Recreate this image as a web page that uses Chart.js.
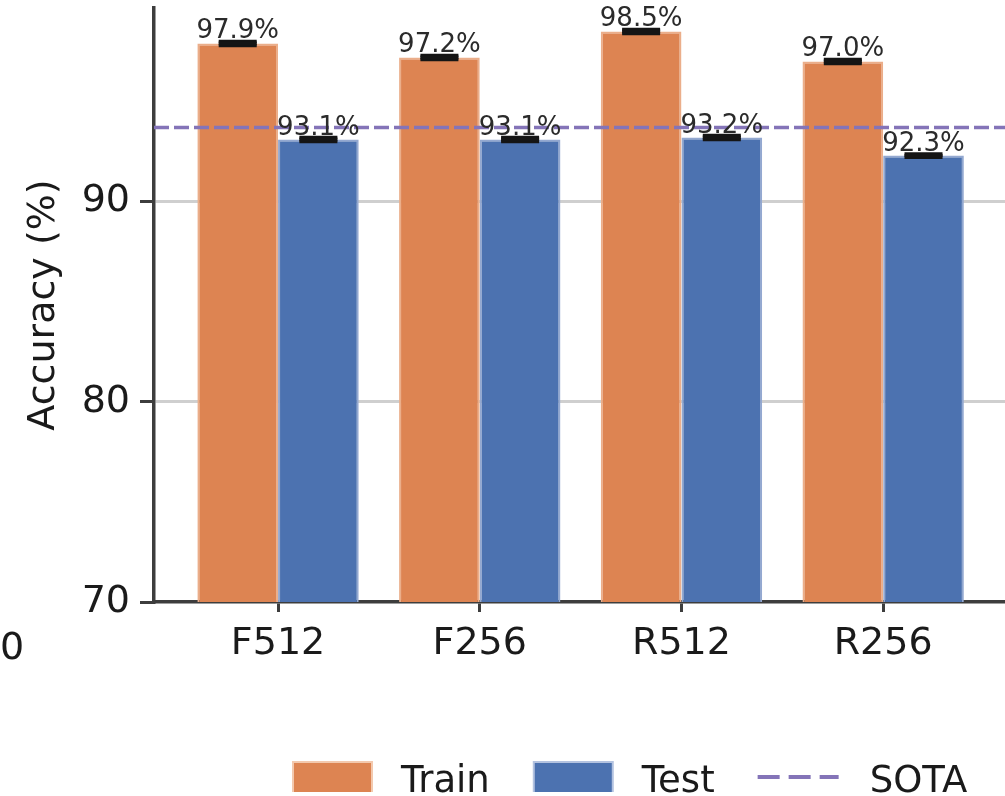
<!DOCTYPE html>
<html>
<head>
<meta charset="utf-8">
<title>Accuracy by model variant</title>
<script src="https://cdn.jsdelivr.net/npm/chart.js@4.4.1/dist/chart.umd.min.js"></script>
<style>
  html, body { margin: 0; padding: 0; background: #ffffff; }
  canvas { display: block; }
</style>
</head>
<body>
<canvas id="chart" width="1005" height="796"></canvas>
<script>
// Model variants on the x axis
const categories = ['F512', 'F256', 'R512', 'R256'];
// Mean accuracy (%) per variant
const trainAcc = [97.9, 97.2, 98.5, 97.0];
const testAcc = [93.1, 93.1, 93.2, 92.3];
// Spread across runs (%)
const trainErr = [0.1, 0.1, 0.1, 0.1];
const testErr = [0.1, 0.1, 0.1, 0.08];
// State-of-the-art reference accuracy (%)
const sotaAcc = 93.7;
// Value axis
const yMin = 70;
const yMax = 99.67;
const yStep = 10;
// Horizontal extent of the category axis (in category units)
const xMin = -0.615;
const xMax = 3.604;

const FONT = "'DejaVu Sans', 'Liberation Sans', sans-serif";
const TRAIN_COLOR = '#DD8452';
const TEST_COLOR = '#4C72B0';
const SOTA_COLOR = '#8474B8';
const AXIS_COLOR = '#3d3d3d';

const series = [
  { label: 'Train', values: trainAcc, errors: trainErr, color: TRAIN_COLOR, edge: '#EBAE8A' },
  { label: 'Test', values: testAcc, errors: testErr, color: TEST_COLOR, edge: '#93A8D0' }
];

// Error bars and value labels on top of each bar
const barAnnotations = {
  id: 'barAnnotations',
  afterDatasetsDraw(chart) {
    const ctx = chart.ctx;
    const y = chart.scales.y;
    series.forEach((s, di) => {
      const meta = chart.getDatasetMeta(di + 1);
      meta.data.forEach((bar, i) => {
        const v = s.values[i];
        const e = s.errors[i];
        const yHi = y.getPixelForValue(v + e);
        const yLo = y.getPixelForValue(v - e);
        const half = 19;
        ctx.save();
        ctx.strokeStyle = '#151515';
        ctx.lineWidth = 3.5;
        ctx.beginPath();
        ctx.moveTo(bar.x - half, yHi); ctx.lineTo(bar.x + half, yHi);
        ctx.moveTo(bar.x - half, yLo); ctx.lineTo(bar.x + half, yLo);
        ctx.stroke();
        ctx.fillStyle = '#151515';
        ctx.fillRect(bar.x - half, yHi, half * 2, yLo - yHi);
        ctx.fillStyle = '#2b2b2b';
        ctx.font = '26px ' + FONT;
        ctx.textAlign = 'center';
        ctx.textBaseline = 'alphabetic';
        ctx.fillText(v.toFixed(1) + '%', bar.x, y.getPixelForValue(v) - 5);
        ctx.restore();
      });
    });
  }
};

// Legend row along the bottom edge
const bottomLegend = {
  id: 'bottomLegend',
  afterDraw(chart) {
    const ctx = chart.ctx;
    ctx.save();
    ctx.font = '37px ' + FONT;
    ctx.textBaseline = 'alphabetic';
    ctx.textAlign = 'left';
    const boxW = 81, boxTop = 761, boxH = 31, baseY = 792;
    let x = 292;
    const items = [
      { text: 'Train', kind: 'box', color: TRAIN_COLOR, edge: '#F3C9AE' },
      { text: 'Test', kind: 'box', color: TEST_COLOR, edge: '#B4C3E0' },
      { text: 'SOTA', kind: 'dash', color: SOTA_COLOR }
    ];
    items.forEach((it) => {
      if (it.kind === 'box') {
        ctx.fillStyle = it.edge;
        ctx.fillRect(x, boxTop, boxW, boxH);
        ctx.fillStyle = it.color;
        ctx.fillRect(x + 2, boxTop + 2, boxW - 4, boxH - 2);
      } else {
        ctx.strokeStyle = it.color;
        ctx.lineWidth = 4;
        ctx.setLineDash([22, 9]);
        ctx.beginPath();
        ctx.moveTo(x, 777);
        ctx.lineTo(x + boxW, 777);
        ctx.stroke();
        ctx.setLineDash([]);
      }
      const tx = x + boxW + (it.kind === 'box' ? 28 : 31);
      ctx.fillStyle = '#1a1a1a';
      ctx.fillText(it.text, tx, baseY);
      x = tx + ctx.measureText(it.text).width + 43;
    });
    // tick label fragment left of the axis
    ctx.font = '38px ' + FONT;
    ctx.fillText('0', 0, 659);
    ctx.restore();
  }
};

const chart = new Chart(document.getElementById('chart'), {
  type: 'bar',
  data: {
    datasets: [
      {
        type: 'line',
        label: 'SOTA',
        data: [{ x: xMin, y: sotaAcc }, { x: xMax, y: sotaAcc }],
        borderColor: SOTA_COLOR,
        borderWidth: 3.5,
        borderDash: [15, 5],
        pointRadius: 0,
        fill: false,
        order: 0
      },
      ...series.map(s => ({
        label: s.label,
        data: s.values.map((v, i) => ({ x: i, y: v })),
        backgroundColor: s.color,
        borderColor: s.edge,
        borderWidth: 2,
        borderSkipped: 'start',
        categoryPercentage: 0.8,
        barPercentage: 1.0,
        order: 1
      }))
    ]
  },
  options: {
    responsive: false,
    animation: false,
    devicePixelRatio: 1,
    layout: { padding: { top: 8, left: 0, right: 0, bottom: 0 } },
    plugins: {
      legend: { display: false },
      tooltip: { enabled: false }
    },
    scales: {
      x: {
        type: 'linear',
        min: xMin,
        max: xMax,
        offset: false,
        afterBuildTicks(scale) {
          scale.ticks = categories.map((_, i) => ({ value: i }));
        },
        afterFit(scale) {
          scale.height = 194;
          scale.paddingLeft = 0;
          scale.paddingRight = 0;
        },
        ticks: {
          autoSkip: false,
          maxRotation: 0,
          padding: 9,
          color: '#1a1a1a',
          font: { family: FONT, size: 38 },
          callback: (value) => categories[value]
        },
        grid: {
          display: true,
          drawOnChartArea: false,
          drawTicks: true,
          offset: false,
          tickLength: 10,
          tickWidth: 3,
          tickColor: AXIS_COLOR
        },
        border: { display: true, color: AXIS_COLOR, width: 3.5 }
      },
      y: {
        type: 'linear',
        min: yMin,
        max: yMax,
        afterFit(scale) {
          scale.width = 154;
          scale.paddingTop = 0;
          scale.paddingBottom = 0;
        },
        ticks: {
          stepSize: yStep,
          includeBounds: false,
          padding: 10,
          color: '#1a1a1a',
          font: { family: FONT, size: 38 }
        },
        grid: {
          color: (c) => (c.tick && c.tick.value === yMin ? 'rgba(0,0,0,0)' : '#cfcfcf'),
          lineWidth: 3,
          tickLength: 14,
          tickWidth: 3,
          tickColor: AXIS_COLOR
        },
        border: { display: true, color: AXIS_COLOR, width: 3.5 },
        title: {
          display: true,
          text: 'Accuracy (%)',
          color: '#1a1a1a',
          font: { family: FONT, size: 38 },
          padding: { top: 21, bottom: 0 }
        }
      }
    }
  },
  plugins: [barAnnotations, bottomLegend]
});
</script>
</body>
</html>
